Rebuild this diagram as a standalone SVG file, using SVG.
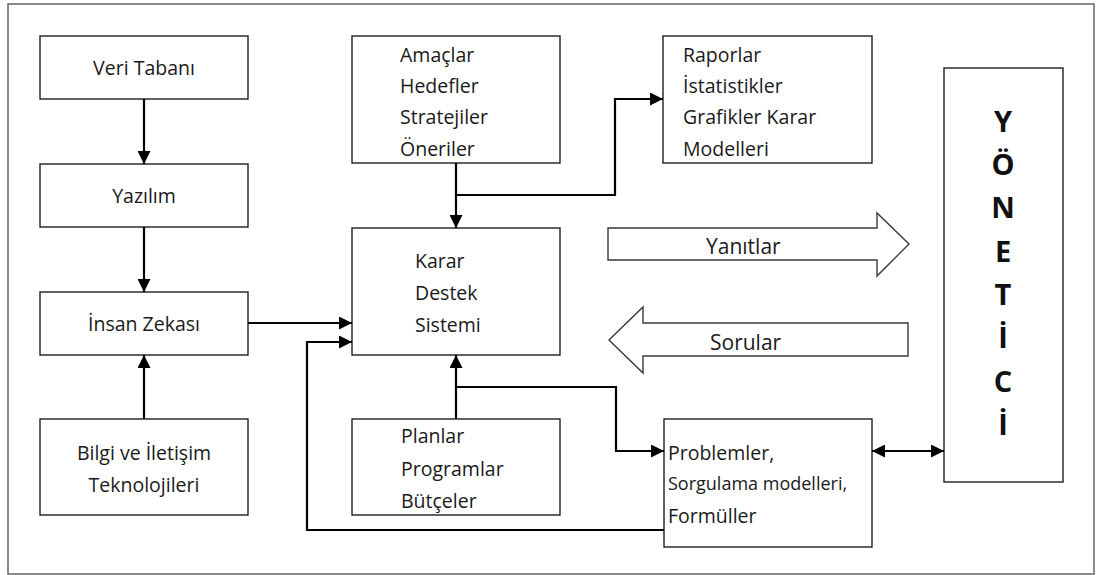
<svg xmlns="http://www.w3.org/2000/svg" width="1101" height="575" viewBox="0 0 1101 575">
  <style>
    .frame { fill: #ffffff; stroke: #6e6e6e; stroke-width: 1.6; }
    .box { fill: #ffffff; stroke: #1e1e1e; stroke-width: 1.4; }
    .big { fill: #ffffff; stroke: #3a3a3a; stroke-width: 1.4; }
    .wire { fill: none; stroke: #000000; stroke-width: 2.2; }
    text { font-family: "Open Sans", "Liberation Sans", sans-serif; fill: #1a1a1a; }
    .t { font-size: 19.5px; }
    .c { text-anchor: middle; }
    .s { font-size: 18px; }
    .lab { font-size: 21px; }
    .v { font-size: 29px; font-weight: bold; text-anchor: middle; fill: #111; }
  </style>
  <defs>
    <marker id="ah" markerUnits="userSpaceOnUse" markerWidth="13" markerHeight="13" viewBox="0 0 13 13" refX="13" refY="6.5" orient="auto-start-reverse">
      <path d="M0,0 L13,6.5 L0,13 z" fill="#000"/>
    </marker>
  </defs>

  <rect class="frame" x="8" y="4" width="1086" height="570"/>

  <!-- left column -->
  <g id="veri-tabani">
    <rect class="box" x="40" y="36" width="208" height="63"/>
    <text class="t c" x="144" y="75">Veri Tabanı</text>
  </g>
  <g id="yazilim">
    <rect class="box" x="40" y="164" width="208" height="63"/>
    <text class="t c" x="144" y="203">Yazılım</text>
  </g>
  <g id="insan-zekasi">
    <rect class="box" x="40" y="292" width="208" height="63"/>
    <text class="t c" x="144" y="331">İnsan Zekası</text>
  </g>
  <g id="bilgi-iletisim">
    <rect class="box" x="40" y="419" width="208" height="96"/>
    <text class="t c" x="144" y="460">Bilgi ve İletişim</text>
    <text class="t c" x="144" y="492">Teknolojileri</text>
  </g>

  <!-- centre column -->
  <g id="amaclar">
    <rect class="box" x="352" y="36" width="208" height="127"/>
    <text class="t" x="400" y="62">Amaçlar</text>
    <text class="t" x="400" y="93">Hedefler</text>
    <text class="t" x="400" y="124">Stratejiler</text>
    <text class="t" x="400" y="156">Öneriler</text>
  </g>
  <g id="karar-destek">
    <rect class="box" x="352" y="228" width="208" height="127"/>
    <text class="t" x="415" y="268">Karar</text>
    <text class="t" x="415" y="300">Destek</text>
    <text class="t" x="415" y="332">Sistemi</text>
  </g>
  <g id="planlar">
    <rect class="box" x="352" y="419" width="208" height="96"/>
    <text class="t" x="401" y="443">Planlar</text>
    <text class="t" x="401" y="476">Programlar</text>
    <text class="t" x="401" y="508">Bütçeler</text>
  </g>

  <!-- right column -->
  <g id="raporlar">
    <rect class="box" x="663" y="36" width="209" height="127"/>
    <text class="t" x="683" y="62">Raporlar</text>
    <text class="t" x="683" y="93">İstatistikler</text>
    <text class="t" x="683" y="124">Grafikler Karar</text>
    <text class="t" x="683" y="156">Modelleri</text>
  </g>
  <g id="problemler">
    <rect class="box" x="664" y="419" width="208" height="128"/>
    <text class="t" x="668" y="460">Problemler,</text>
    <text class="s" x="668" y="490">Sorgulama modelleri,</text>
    <text class="t" x="668" y="523">Formüller</text>
  </g>

  <g id="yanitlar">
    <path class="big" d="M608,228 H877 V213 L909,244 L877,276 V260 H608 Z"/>
    <text class="lab" x="706" y="254">Yanıtlar</text>
  </g>
  <g id="sorular">
    <path class="big" d="M908,323 H643 V307 L609,340 L643,373 V356 H908 Z"/>
    <text class="lab" x="710" y="350">Sorular</text>
  </g>

  <g id="yonetici">
    <rect class="box" x="944" y="68" width="119" height="414"/>
    <text class="v" x="1003" y="132">Y</text>
    <text class="v" x="1003" y="175">Ö</text>
    <text class="v" x="1003" y="218">N</text>
    <text class="v" x="1003" y="262">E</text>
    <text class="v" x="1003" y="305">T</text>
    <text class="v" x="1003" y="348">İ</text>
    <text class="v" x="1003" y="392">C</text>
    <text class="v" x="1003" y="435">İ</text>
  </g>

  <!-- connectors -->
  <g id="connectors">
    <path class="wire" d="M144,99 V164" marker-end="url(#ah)"/>
    <path class="wire" d="M144,227 V292" marker-end="url(#ah)"/>
    <path class="wire" d="M144,419 V355" marker-end="url(#ah)"/>
    <path class="wire" d="M248,323 H352" marker-end="url(#ah)"/>
    <path class="wire" d="M664,530 H307 V342 H352" marker-end="url(#ah)"/>
    <path class="wire" d="M456,163 V228" marker-end="url(#ah)"/>
    <path class="wire" d="M456,195 H615 V99 H663" marker-end="url(#ah)"/>
    <path class="wire" d="M456,419 V355" marker-end="url(#ah)"/>
    <path class="wire" d="M456,387 H616 V451 H664" marker-end="url(#ah)"/>
    <path class="wire" d="M872,451 H944" marker-start="url(#ah)" marker-end="url(#ah)"/>
  </g>
</svg>
